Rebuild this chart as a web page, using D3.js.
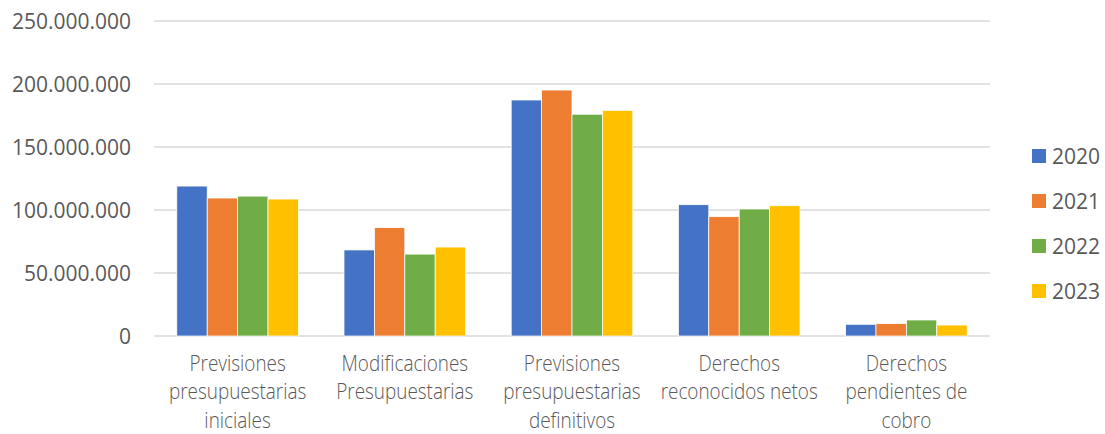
<!DOCTYPE html>
<html><head><meta charset="utf-8">
<script src="https://cdn.jsdelivr.net/npm/d3@7"></script>
<style>body{margin:0;background:#fff}svg{display:block}</style>
</head><body>
<svg id="c" width="1105" height="434"></svg>
<script>
const categories = [
  ["Previsiones","presupuestarias","iniciales"],
  ["Modificaciones","Presupuestarias"],
  ["Previsiones","presupuestarias","definitivos"],
  ["Derechos","reconocidos netos"],
  ["Derechos","pendientes de","cobro"]
];
const years = ["2020","2021","2022","2023"];
const v2020 = [119000000, 68300000, 187300000, 104200000, 9300000];
const v2021 = [109500000, 86000000, 195200000, 94700000, 9800000];
const v2022 = [111000000, 65000000, 176000000, 100800000, 12700000];
const v2023 = [108700000, 70600000, 179100000, 103400000, 8700000];
const series = [v2020, v2021, v2022, v2023];
const colors = ["#4472C4","#ED7D31","#70AD47","#FFC000"];
const yTicks = [0, 50000000, 100000000, 150000000, 200000000, 250000000];

const svg = d3.select("#c");
const L = 154, R = 990, T = 21, B = 336;
const x0 = d3.scaleBand().domain(d3.range(categories.length)).range([L, R]).paddingInner(0).paddingOuter(0);
const x1 = d3.scaleBand().domain(d3.range(years.length)).range([0, x0.bandwidth()]).paddingInner(0).paddingOuter(0.75);
const y = d3.scaleLinear().domain([0, 250000000]).range([B, T]);
const fmt = v => d3.format(",")(v).replace(/,/g, ".");

// gridlines
svg.append("g").selectAll("line").data(yTicks).join("line")
  .attr("x1", L).attr("x2", R).attr("y1", d => y(d)).attr("y2", d => y(d))
  .attr("stroke", "#d9d9d9").attr("stroke-width", 1.5);

// y labels
svg.append("g").selectAll("text").data(yTicks).join("text")
  .attr("x", 131).attr("y", d => y(d)).attr("dy", "0.36em")
  .attr("text-anchor", "end").attr("fill", "#595959")
  .style("font", "21px 'Open Sans', sans-serif")
  .text(d => fmt(d));

// bars
const g = svg.append("g");
series.forEach((s, si) => {
  g.append("g").selectAll("rect").data(s).join("rect")
    .attr("x", (d, i) => x0(i) + x1(si))
    .attr("width", x1.bandwidth())
    .attr("y", d => y(d)).attr("height", d => B - y(d))
    .attr("fill", colors[si]).attr("stroke", "#fff").attr("stroke-width", 0.75);
});

// category labels
const cl = svg.append("g");
categories.forEach((lines, i) => {
  const cx = x0(i) + x0.bandwidth()/2;
  const t = cl.append("text").attr("text-anchor", "middle").attr("fill", "#595959")
    .attr("transform", `translate(${cx},0) scale(0.86,1)`)
    .style("font", "300 22px 'Open Sans', sans-serif");
  lines.forEach((ln, j) => {
    t.append("tspan").attr("x", 0).attr("y", 371 + j*28.5).text(ln);
  });
});

// legend
const lg = svg.append("g");
years.forEach((yr, i) => {
  const cy = 156 + i*45;
  lg.append("rect").attr("x", 1032).attr("y", cy - 7).attr("width", 14).attr("height", 14).attr("fill", colors[i]);
  lg.append("text").attr("x", 1052).attr("y", cy).attr("dy", "0.36em").attr("fill", "#595959")
    .style("font", "21px 'Open Sans', sans-serif").text(yr);
});
</script>
</body></html>
